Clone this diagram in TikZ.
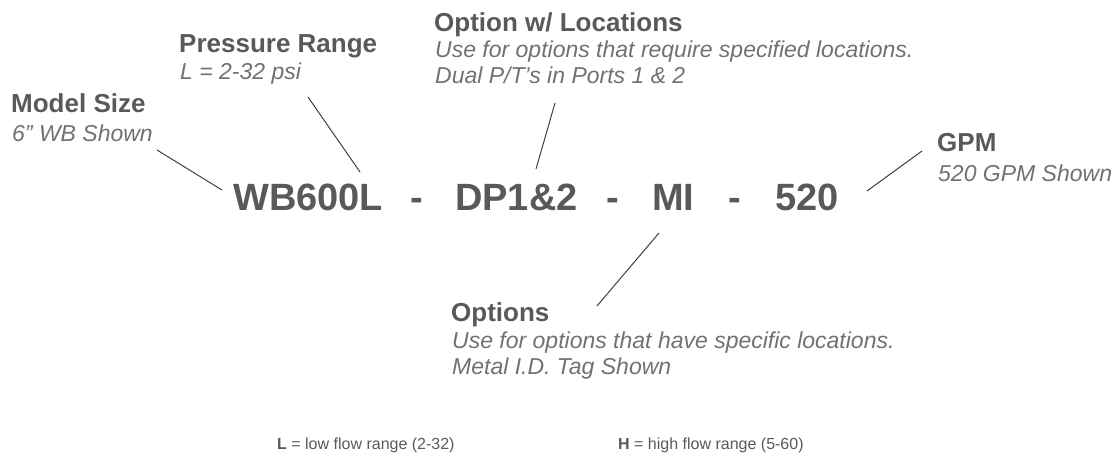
\documentclass[tikz,border=0pt]{standalone}
\usepackage{fontspec}
\setmainfont{Liberation Sans}
\usetikzlibrary{positioning}
\definecolor{codegray}{HTML}{58595B}
\definecolor{descgray}{HTML}{707173}
\tikzstyle{code part}  = [inner sep=0, anchor=base west, text=codegray, font=\fontsize{38}{40}\selectfont\bfseries]
\tikzstyle{title node} = [inner sep=0, anchor=base west, text=codegray, font=\fontsize{26}{28}\selectfont\bfseries]
\tikzstyle{desc node}  = [inner sep=0, anchor=base west, text=descgray, align=left, font=\fontsize{23}{26}\selectfont\itshape]
\tikzstyle{key node}   = [inner sep=0, anchor=base west, text=codegray, font=\fontsize{16}{18}\selectfont]
\tikzstyle{leader}     = [draw=black!75, line width=1pt]

\begin{document}
\begin{tikzpicture}[x=1pt, y=-1pt]
    \useasboundingbox (0,0) rectangle (1120,465);

    % Model number parts
    \node(wb)[code part] at (233,211) {WB600L};
    \node(d1)[code part] at (410,211) {-};
    \node(dp)[code part] at (455,211) {DP1\&2};
    \node(d2)[code part] at (606,211) {-};
    \node(mi)[code part] at (652,211) {MI};
    \node(d3)[code part] at (728,211) {-};
    \node(gpm)[code part] at (775,211) {520};

    % Model size label
    \node(msize)[title node] at (11,113) {Model Size};
    \node(msizeD)[desc node] at (12,142) {6” WB Shown};
    % Pressure range label
    \node(prange)[title node] at (179,53) {Pressure Range};
    \node(prangeD)[desc node] at (180,80) {L = 2-32 psi};
    % Option with locations label (base is the last line)
    \node(optloc)[title node] at (434,32) {Option w/ Locations};
    \node(optlocD)[desc node] at (435,84) {Use for options that require specified locations.\\Dual P/T’s in Ports 1 \& 2};
    % Options label (base is the last line)
    \node(opts)[title node] at (451,322) {Options};
    \node(optsD)[desc node] at (452,374) {Use for options that have specific locations.\\Metal I.D. Tag Shown};
    % GPM label
    \node(flow)[title node] at (937,152) {GPM};
    \node(flowD)[desc node] at (938,182) {520 GPM Shown};

    % Flow range key
    \node(keyL)[key node] at (277,449) {\textbf{L} = low flow range (2-32)};
    \node(keyH)[key node] at (618,449) {\textbf{H} = high flow range (5-60)};

    % Leader ends
    \coordinate (msizeA) at (157,150);
    \coordinate (msizeB) at (222,190);
    \coordinate (prangeA) at (308,97);
    \coordinate (prangeB) at (360,172);
    \coordinate (optlocA) at (555,103);
    \coordinate (optlocB) at (536,169);
    \coordinate (optsA) at (659,233);
    \coordinate (optsB) at (597,306);
    \coordinate (flowA) at (922,151);
    \coordinate (flowB) at (867,191);

    % Leaders
    \draw[leader] (msizeA) -- (msizeB);
    \draw[leader] (prangeA) -- (prangeB);
    \draw[leader] (optlocA) -- (optlocB);
    \draw[leader] (optsA) -- (optsB);
    \draw[leader] (flowA) -- (flowB);

\end{tikzpicture}
\end{document}
